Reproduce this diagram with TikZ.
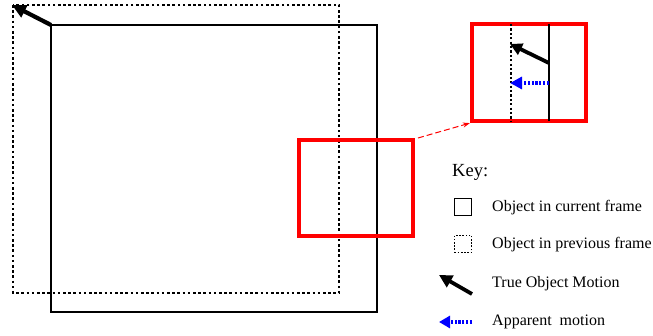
\documentclass[tikz,border=0pt]{standalone}
\usepackage{fontspec}
\setmainfont{Liberation Serif}
\usetikzlibrary{arrows.meta}
\begin{document}
\begin{tikzpicture}[x=1pt,y=-1pt,
  solidbox/.style={draw=black,line width=2.2pt},
  dotbox/.style={draw=black,line width=2.8pt,dash pattern=on 2.6pt off 2.6pt},
  redbox/.style={draw=red,line width=4.2pt},
  truearrow/.style={draw=black,line width=4.2pt,-{Triangle[length=14pt,width=13pt]}},
  apparrow/.style={draw=blue,line width=4pt,dash pattern=on 2.2pt off 1.6pt,-{Triangle[length=12pt,width=12pt]}},
  keytext/.style={anchor=west,font=\fontsize{16}{18}\selectfont,inner sep=0pt}]
\useasboundingbox (0,0) rectangle (653,336);
% main rectangles
\draw[dotbox] (13,5) rectangle (339,293);
\draw[solidbox] (51,25) rectangle (377,312);
\coordinate (c1) at (51,25);
\coordinate (d1) at (12,5);
\draw[truearrow] (c1) -- (d1);
% red region
\node[redbox,minimum width=114pt,minimum height=96pt,inner sep=0pt] (zoomsrc) at (356,188) {};
\node[redbox,minimum width=114pt,minimum height=97pt,inner sep=0pt] (inset) at (529,72.5) {};
\draw[draw=black,line width=2.2pt,dash pattern=on 2.2pt off 2.2pt] (511,24) -- (511,121);
\draw[solidbox,line width=2pt] (549,24) -- (549,121);
\coordinate (ia) at (549,63);
\coordinate (ib) at (510,44);
\draw[truearrow,line width=3.8pt,-{Triangle[length=12pt,width=12pt]}] (ia) -- (ib);
\coordinate (ja) at (549,83);
\coordinate (jb) at (510,83);
\draw[apparrow,line width=3.8pt,-{Triangle[length=12pt,width=12pt]}] (ja) -- (jb);
\coordinate (ra) at (418,138);
\draw[red,line width=1pt,dash pattern=on 6pt off 3pt,-{Stealth[length=7pt,width=5pt]}] (ra) -- (inset.south west);
% key
\node[keytext,font=\fontsize{18.5}{20}\selectfont] (key) at (452,172) {Key:};
\node[draw=black,line width=1.2pt,minimum size=17pt,inner sep=0pt] (k1) at (463,207) {};
\node[keytext] (t1) at (492,208) {Object in current frame};
\node[draw=black,line width=1.1pt,dash pattern=on 1.6pt off 1.6pt,minimum size=17pt,inner sep=0pt] (k2) at (463,244) {};
\node[keytext] (t2) at (492,245) {Object in previous frame};
\coordinate (k3a) at (472,294);
\coordinate (k3b) at (439,275);
\draw[truearrow,line width=3.8pt,-{Triangle[length=13pt,width=13pt]}] (k3a) -- (k3b);
\node[keytext] (t3) at (492,284) {True Object Motion};
\coordinate (k4a) at (472,322);
\coordinate (k4b) at (439,322);
\draw[apparrow,line width=3.8pt,-{Triangle[length=11pt,width=12pt]}] (k4a) -- (k4b);
\node[keytext] (t4) at (492,322) {Apparent\ \ motion};
\end{tikzpicture}
\end{document}
